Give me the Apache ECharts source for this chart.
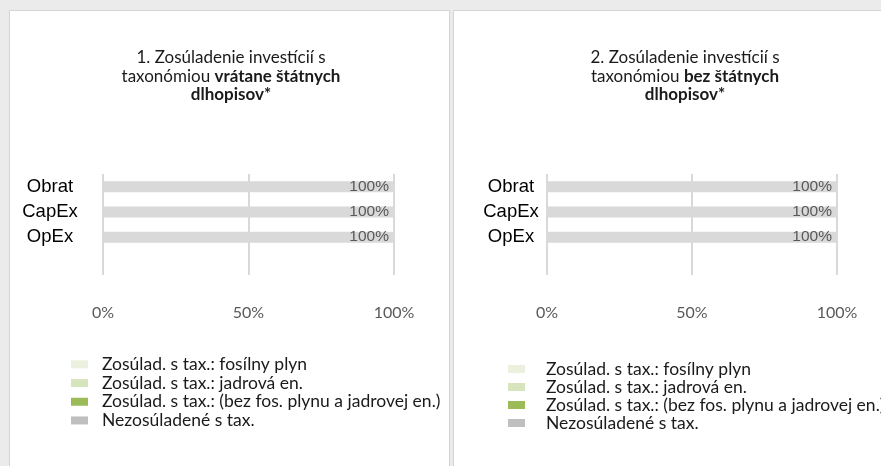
<!DOCTYPE html>
<html><head><meta charset="utf-8">
<script src="https://cdn.jsdelivr.net/npm/echarts@6/dist/echarts.min.js"></script>
<style>html,body{margin:0;padding:0;background:#ebebeb}#c{width:881px;height:466px}</style>
</head><body><div id="c"></div>
<script>
// ---- data ----
const categories = ['Obrat', 'CapEx', 'OpEx'];
const seriesNames = [
  'Zosúlad. s tax.: fosílny plyn',
  'Zosúlad. s tax.: jadrová en.',
  'Zosúlad. s tax.: (bez fos. plynu a jadrovej en.)',
  'Nezosúladené s tax.'
];
// Chart 1: vrátane štátnych dlhopisov
const c1Gas = [0, 0, 0];
const c1Nuclear = [0, 0, 0];
const c1Other = [0, 0, 0];
const c1NotAligned = [100, 100, 100];
// Chart 2: bez štátnych dlhopisov
const c2Gas = [0, 0, 0];
const c2Nuclear = [0, 0, 0];
const c2Other = [0, 0, 0];
const c2NotAligned = [100, 100, 100];
const xMin = 0, xMax = 100, xStep = 50;

const title1 = ['1. Zosúladenie investícií s', 'taxonómiou ', 'vrátane štátnych', 'dlhopisov*'];
const title2 = ['2. Zosúladenie investícií s', 'taxonómiou ', 'bez štátnych', 'dlhopisov*'];

// ---- styles ----
const fillColors = ['#ebf1de', '#d7e4bd', '#9bbb59', '#d9d9d9'];
const legendColors = ['#ebf1de', '#d7e4bd', '#9bbb59', '#bfbfbf'];
const calibri = 'Lato, "Open Sans", sans-serif';
const arial = '"Liberation Sans", Arial, sans-serif';
const titleSize = 17;
const legendSize = 17.5;

const chart = echarts.init(document.getElementById('c'));

function titleGraphics(t, cx) {
  const base = {fontFamily: calibri, fontSize: titleSize, fill: '#1a1a1a', textAlign: 'center', textVerticalAlign: 'middle'};
  return [
    {type: 'text', x: cx, y: 58, style: Object.assign({}, base, {text: t[0]})},
    {type: 'text', x: cx, y: 77, style: Object.assign({}, base, {
      text: '{n|' + t[1] + '}{b|' + t[2] + '}',
      rich: {
        n: {fontFamily: calibri, fontSize: titleSize, color: '#1a1a1a'},
        b: {fontFamily: calibri, fontSize: titleSize, color: '#1a1a1a', fontWeight: 'bold'}
      }
    })},
    {type: 'text', x: cx, y: 95, style: Object.assign({}, base, {text: t[3], fontWeight: 'bold'})}
  ];
}

function makeSeries(idx, stack, arrs) {
  return arrs.map((arr, i) => ({
    name: seriesNames[i],
    type: 'bar',
    stack: stack,
    xAxisIndex: idx,
    yAxisIndex: idx,
    barWidth: 11,
    data: arr,
    itemStyle: {color: fillColors[i]},
    label: i === 3 ? {
      show: true, position: 'insideRight', distance: 5,
      formatter: '{c}%', color: '#595959', fontFamily: arial, fontSize: 15.5
    } : {show: false},
    emphasis: {disabled: true}
  }));
}

function xAxis(idx) {
  return {
    type: 'value', gridIndex: idx, min: xMin, max: xMax, interval: xStep,
    axisLine: {show: false}, axisTick: {show: false},
    splitLine: {show: true, lineStyle: {color: '#d9d9d9', width: 2}},
    axisLabel: {formatter: '{value}%', margin: 30, fontFamily: calibri, fontSize: 16, color: '#595959'}
  };
}
function yAxis(idx, margin) {
  return {
    type: 'category', gridIndex: idx, inverse: true, data: categories.concat(['']),
    axisLine: {show: false}, axisTick: {show: false}, splitLine: {show: false},
    axisLabel: {align: 'center', margin: margin, fontFamily: arial, fontSize: 18.5, color: '#000'}
  };
}
function legend(left, top, lh, pad) {
  return {
    orient: 'vertical', left: left, top: top, padding: 0, itemGap: 0,
    itemWidth: 17, itemHeight: 8, icon: 'rect', selectedMode: false,
    data: seriesNames.map((n, i) => ({name: n, itemStyle: {color: legendColors[i]}})),
    textStyle: {fontFamily: calibri, fontSize: legendSize, color: '#1a1a1a', lineHeight: lh, padding: [0, 0, 0, pad]}
  };
}

chart.setOption({
  animation: false,
  backgroundColor: '#ebebeb',
  graphic: [
    {type: 'rect', shape: {x: 9.5, y: 10.5, width: 440, height: 470}, style: {fill: '#ffffff', stroke: '#d4d4d4', lineWidth: 1}, z: -10},
    {type: 'rect', shape: {x: 453.5, y: 10.5, width: 440, height: 470}, style: {fill: '#ffffff', stroke: '#d4d4d4', lineWidth: 1}, z: -10}
  ].concat(titleGraphics(title1, 231)).concat(titleGraphics(title2, 685)),
  grid: [
    {left: 103, top: 174, width: 291, height: 101, outerBoundsMode: 'none', containLabel: false},
    {left: 547, top: 174, width: 290, height: 101, outerBoundsMode: 'none', containLabel: false}
  ],
  xAxis: [xAxis(0), xAxis(1)],
  yAxis: [yAxis(0, 53), yAxis(1, 36)],
  legend: [legend(71, 355, 18.7, 9), legend(508, 360, 17.7, 16)],
  series: makeSeries(0, 'a', [c1Gas, c1Nuclear, c1Other, c1NotAligned])
    .concat(makeSeries(1, 'b', [c2Gas, c2Nuclear, c2Other, c2NotAligned]))
});
</script>
</body></html>
